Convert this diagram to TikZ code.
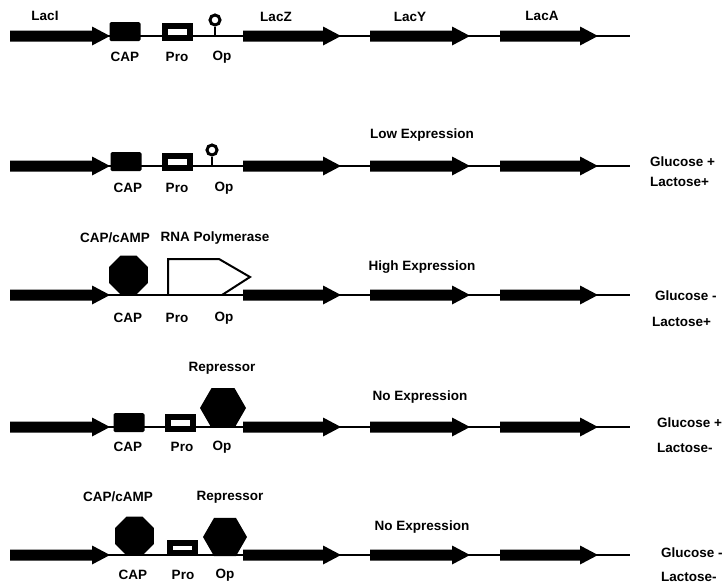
\documentclass[tikz,border=0pt]{standalone}
\usepackage{fontspec}
\setmainfont{Liberation Sans}
\usetikzlibrary{shapes.geometric}
\begin{document}
\begin{tikzpicture}[x=1pt,y=-1pt,
    dna/.style={line width=2pt, black},
    lbl/.style={font=\fontsize{13.5}{15}\selectfont\bfseries, inner sep=0pt},
    capbox/.style={fill=black, rounded corners=1.5pt, minimum width=31pt, minimum height=19pt, inner sep=0pt},
    probox/.style={draw=black, line width=6pt, fill=white, minimum width=25pt, minimum height=12pt, inner sep=0pt},
    opball/.style={circle, draw=black, line width=3pt, fill=white, minimum size=10pt, inner sep=0pt},
    capcamp/.style={regular polygon, regular polygon sides=8, fill=black, minimum size=42pt, inner sep=0pt},
    repressor/.style={regular polygon, regular polygon sides=6, fill=black, minimum size=46pt, inner sep=0pt},
    polymerase/.style={line width=2pt, black, line join=miter}]

    \useasboundingbox (0,0) rectangle (724,587);

    % === DNA STRANDS AND GENES ===
    \foreach \r/\y in {1/36,2/166,3/295,4/427,5/555}{
        \coordinate (dnaS\r) at (10,\y);
        \coordinate (dnaE\r) at (630,\y);
        \draw[dna] (dnaS\r) -- (dnaE\r);
        \foreach \a/\b in {10/110,243/341,370/470,500/598}
            \fill[black] (\a,\y-5.5) -- (\b-18,\y-5.5) -- (\b-18,\y-9.5) -- (\b,\y) --
                (\b-18,\y+9.5) -- (\b-18,\y+5.5) -- (\a,\y+5.5) -- cycle;
    }

    % === ROW 1: OPERON MAP ===
    \node[capbox] (capA) at (125,31.5) {};
    \node[probox] (proA) at (177.5,31.5) {};
    \node[opball] (opA) at (215,20) {};
    \draw[line width=2.5pt] (opA.south) -- (opA.south |- dnaS1);

    \node[lbl] (lacI) at (45,16) {LacI};
    \node[lbl] (lacZ) at (276,17) {LacZ};
    \node[lbl] (lacY) at (410,17) {LacY};
    \node[lbl] (lacA) at (542,16) {LacA};
    \node[lbl] (capAl) at (125,57) {CAP};
    \node[lbl] (proAl) at (177,57) {Pro};
    \node[lbl] (opAl) at (222,57) {Op};

    % === ROW 2: GLUCOSE + / LACTOSE + ===
    \node[capbox] (capB) at (126,161.5) {};
    \node[probox] (proB) at (177.5,161.5) {};
    \node[opball] (opB) at (212,150) {};
    \draw[line width=2.5pt] (opB.south) -- (opB.south |- dnaS2);

    \node[lbl] (capBl) at (128,188) {CAP};
    \node[lbl] (proBl) at (177,188) {Pro};
    \node[lbl] (opBl) at (224,188) {Op};
    \node[lbl] (exprB) at (422,135) {Low Expression};
    \node[lbl, anchor=west] (glcB) at (650,162) {Glucose +};
    \node[lbl, anchor=west] (lacB) at (650,182) {Lactose+};

    % === ROW 3: GLUCOSE - / LACTOSE + ===
    \node[capcamp] (capC) at (128.5,275) {};
    \draw[polymerase] (168,295) -- (168,259) -- (219,259) -- (250,277) -- (222,295);

    \node[lbl] (campCl) at (115,238) {CAP/cAMP};
    \node[lbl] (polCl) at (215,238) {RNA Polymerase};
    \node[lbl] (capCl) at (128,318) {CAP};
    \node[lbl] (proCl) at (177,318) {Pro};
    \node[lbl] (opCl) at (224,318) {Op};
    \node[lbl] (exprC) at (422,267) {High Expression};
    \node[lbl, anchor=west] (glcC) at (655,296) {Glucose -};
    \node[lbl, anchor=west] (lacC) at (652,322) {Lactose+};

    % === ROW 4: GLUCOSE + / LACTOSE - ===
    \node[capbox] (capD) at (129,422.5) {};
    \node[probox] (proD) at (180.5,422.5) {};
    \node[repressor] (repD) at (223,408) {};

    \node[lbl] (repDl) at (222,368) {Repressor};
    \node[lbl] (capDl) at (128,447) {CAP};
    \node[lbl] (proDl) at (182,447) {Pro};
    \node[lbl] (opDl) at (222,447) {Op};
    \node[lbl] (exprD) at (420,397) {No Expression};
    \node[lbl, anchor=west] (glcD) at (657,423) {Glucose +};
    \node[lbl, anchor=west] (lacD) at (657,448) {Lactose-};

    % === ROW 5: GLUCOSE - / LACTOSE - ===
    \node[capcamp] (capE) at (134.5,536) {};
    \node[probox, minimum height=10pt] (proE) at (182.5,548) {};
    \node[repressor, minimum size=44pt] (repE) at (225,537) {};

    \node[lbl] (campEl) at (118,497) {CAP/cAMP};
    \node[lbl] (repEl) at (230,497) {Repressor};
    \node[lbl] (capEl) at (133,575) {CAP};
    \node[lbl] (proEl) at (183,575) {Pro};
    \node[lbl] (opEl) at (225,575) {Op};
    \node[lbl] (exprE) at (422,527) {No Expression};
    \node[lbl, anchor=west] (glcE) at (661,553) {Glucose -};
    \node[lbl, anchor=west] (lacE) at (661,577) {Lactose-};

\end{tikzpicture}
\end{document}
